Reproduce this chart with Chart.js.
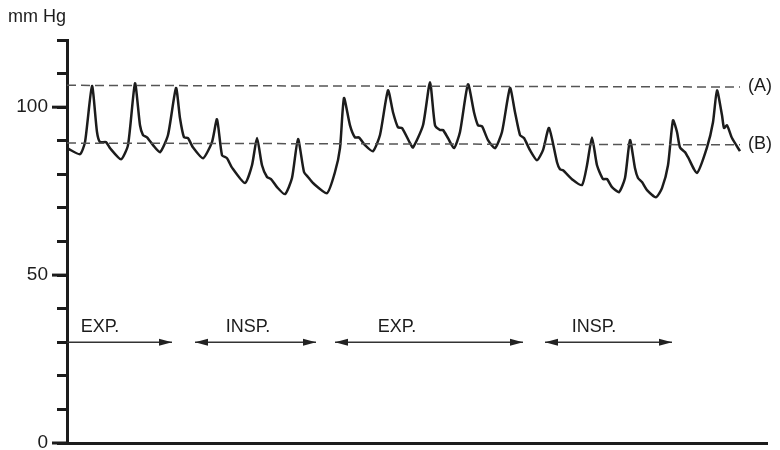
<!DOCTYPE html>
<html>
<head>
<meta charset="utf-8">
<script src="https://cdn.jsdelivr.net/npm/chart.js@4/dist/chart.umd.min.js"></script>
<style>
  body { margin: 0; background: #fff; }
  #wrap { width: 780px; height: 450px; }
</style>
</head>
<body>
<div id="wrap"><canvas id="graph"></canvas></div>
<script>
// time (arbitrary units) and arterial pressure (mm Hg)
const times = [0, 0.2, 1.3, 1.8, 2.5, 3.0, 3.3, 3.9, 4.3, 5.4, 6.1, 6.8, 7.3, 7.6, 8.0, 8.6, 9.3,
  10.1, 10.9, 11.3, 11.7, 12.1, 12.6, 13.6, 14.5, 15.0, 15.5, 16.0, 16.5, 17.8, 18.5, 19.0, 19.5,
  20.0, 20.4, 21.0, 21.8, 22.5, 23.1, 23.7, 24.1, 24.6, 26.0, 26.8, 27.3, 27.7, 28.3, 28.8, 29.2,
  29.8, 30.6, 31.3, 32.1, 32.6, 33.1, 33.5, 34.3, 34.6, 35.6, 36.3, 36.8, 37.3, 37.6, 38.1, 38.7,
  39.3, 40.1, 40.7, 41.1, 41.5, 42.1, 42.8, 43.5, 44.3, 44.8, 45.3, 45.7, 46.3, 47.0, 47.6, 48.2,
  49.0, 49.3, 49.6, 50.6, 51.5, 52.0, 52.5, 53.0, 53.6, 54.0, 54.5, 55.2, 55.8, 56.3, 56.8, 57.1,
  57.5, 58.0, 58.9, 59.5, 60.1, 60.6, 61.0, 61.3, 61.8, 62.1, 63.0, 64.0, 64.6, 65.0, 65.5, 65.7,
  66.0, 66.5, 67.3];
const pressure = [88, 87.5, 86, 89.6, 106.3, 92.6, 89.6, 89.6, 87.8, 84.5, 88.7, 107.1, 94.6, 91.7, 91, 88.7, 86.6,
  91.7, 105.7, 96.7, 91, 90.8, 88, 84.8, 89.6, 96.4, 85.7, 84.8, 82, 77.4, 82.7, 90.8, 82.7,
  79.2, 78.6, 76.2, 74.1, 78.9, 90.5, 80.7, 79.2, 77.4, 74.4, 80.7, 87.8, 102.7, 94.6, 91, 91,
  88.7, 86.9, 91.7, 105, 98.5, 94, 93.8, 89.3, 88, 94.6, 107.4, 94.6, 93.2, 93.2, 90.8, 87.8,
  92.6, 106.8, 98.5, 94.6, 94.3, 90.2, 87.8, 92.6, 105.7, 98.5, 91.7, 90.8, 87.2, 84.2, 87.2, 93.8,
  83.6, 81.5, 81.2, 78.3, 76.8, 82.7, 91, 82.7, 78.6, 78.6, 76.2, 74.7, 78.9, 90.2, 81.8, 78.9,
  77.7, 75.3, 73.2, 75.9, 82.7, 96.1, 92.6, 88, 86.6, 85.1, 80.4, 88, 95.5, 105, 97.6, 93.8,
  94.6, 90.8, 86.9];

// reference levels (A) and (B): start and end values
const refNames = ["(A)", "(B)"];
const refStart = [106.5, 89.3];
const refEnd = [106, 88.8];
const refSpan = [0, 67.3];

// breathing phases shown by arrows at 30 mm Hg
const phaseLabels = ["EXP.", "INSP.", "EXP.", "INSP."];
const phaseFrom = [0, 12.8, 26.8, 47.8];
const phaseTo = [10.5, 24.9, 45.6, 60.5];
const phaseTextAt = [3.3, 18.1, 33, 52.7];
const phaseLevel = 30;

const yLabels = [0, 50, 100];

const family = '"Liberation Sans", Arial, sans-serif';
const font = '18px ' + family;
const ink = "#1c1c1c";

const annotations = {
    id: "annotations",
    afterDraw(chart) {
        const ctx = chart.ctx;
        const xs = chart.scales.x;
        const ys = chart.scales.y;
        const left = chart.chartArea.left;
        ctx.save();
        ctx.fillStyle = ink;
        ctx.font = font;

        // longer ticks at labelled values
        ctx.strokeStyle = ink;
        ctx.lineWidth = 3;
        for (const v of yLabels) {
            const py = ys.getPixelForValue(v);
            ctx.beginPath();
            ctx.moveTo(left - 15, py);
            ctx.lineTo(left, py);
            ctx.stroke();
        }

        ctx.textBaseline = "middle";
        ctx.textAlign = "left";
        ctx.fillText("mm Hg", 8, 17);
        for (let i = 0; i < refNames.length; i++) {
            ctx.fillText(refNames[i], xs.getPixelForValue(refSpan[1]) + 8, ys.getPixelForValue(refEnd[i]) - 1);
        }

        // phase arrows
        ctx.strokeStyle = "#333";
        ctx.lineWidth = 1.5;
        const py = ys.getPixelForValue(phaseLevel);
        for (let i = 0; i < phaseLabels.length; i++) {
            const x1 = xs.getPixelForValue(phaseFrom[i]);
            const x2 = xs.getPixelForValue(phaseTo[i]);
            ctx.beginPath();
            ctx.moveTo(x1, py);
            ctx.lineTo(x2, py);
            ctx.stroke();
            ctx.fillStyle = "#222";
            ctx.beginPath();
            ctx.moveTo(x2, py);
            ctx.lineTo(x2 - 13, py - 3.5);
            ctx.lineTo(x2 - 13, py + 3.5);
            ctx.closePath();
            ctx.fill();
            if (phaseFrom[i] > 0) {
                ctx.beginPath();
                ctx.moveTo(x1, py);
                ctx.lineTo(x1 + 13, py - 3.5);
                ctx.lineTo(x1 + 13, py + 3.5);
                ctx.closePath();
                ctx.fill();
            }
            ctx.fillStyle = ink;
            ctx.textAlign = "center";
            ctx.textBaseline = "alphabetic";
            ctx.fillText(phaseLabels[i], xs.getPixelForValue(phaseTextAt[i]), py - 10);
        }
        ctx.restore();
    }
};

const traceData = times.map((t, i) => ({x: t, y: pressure[i]}));
const refSets = refNames.map((name, i) => ({
    label: name,
    data: [{x: refSpan[0], y: refStart[i]}, {x: refSpan[1], y: refEnd[i]}],
    borderColor: "#555",
    borderWidth: 1.5,
    borderDash: [9, 5],
    pointRadius: 0,
}));

const chart = new Chart(document.getElementById("graph"), {
    type: "line",
    data: {
        datasets: [...refSets, {
            label: "Pressure",
            data: traceData,
            borderColor: ink,
            borderWidth: 2.5,
            tension: 0.2,
            pointRadius: 0,
        }],
    },
    options: {
        responsive: true,
        maintainAspectRatio: false,
        animation: false,
        layout: {padding: {top: 40, right: 13, bottom: 7, left: 0}},
        plugins: {legend: {display: false}, tooltip: {enabled: false}},
        scales: {
            x: {
                type: "linear",
                min: 0,
                max: 70,
                ticks: {display: false},
                grid: {display: false, drawTicks: false},
                border: {display: true, color: ink, width: 3},
                afterFit: s => { s.height = 0; },
            },
            y: {
                min: 0,
                max: 120,
                ticks: {
                    stepSize: 10,
                    color: ink,
                    font: {size: 19, family: family},
                    padding: 9,
                    callback: v => yLabels.includes(v) ? String(v) : "",
                },
                grid: {drawOnChartArea: false, tickLength: 10, tickWidth: 3, tickColor: ink},
                border: {color: ink, width: 3},
                afterFit: s => { s.width = 67; s.paddingTop = 0; s.paddingBottom = 0; },
            },
        },
    },
    plugins: [annotations],
});
</script>
</body>
</html>
